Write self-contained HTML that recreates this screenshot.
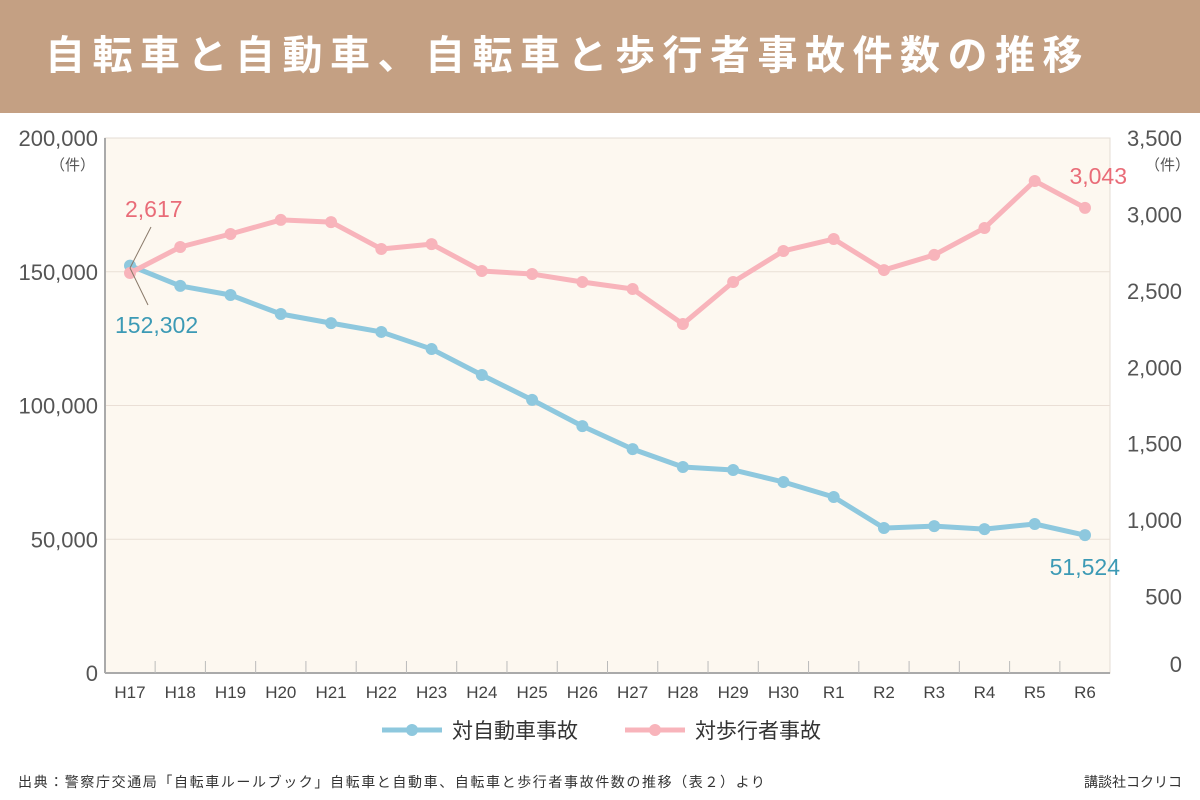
<!DOCTYPE html>
<html><head><meta charset="utf-8">
<style>
body{margin:0;width:1200px;height:800px;background:#fff;font-family:"Liberation Sans","Noto Sans CJK JP",sans-serif;overflow:hidden;position:relative}
#title{position:absolute;left:0;top:0;width:1200px;height:113px;background:#c4a083;color:#fff;font-size:40px;font-weight:bold;line-height:113px;padding-left:45px;box-sizing:border-box;letter-spacing:7.5px}
.foot{position:absolute;top:772px;font-size:14px;color:#333}
</style></head><body>
<div id="title">自転車と自動車、自転車と歩行者事故件数の推移</div>
<svg id="chart" width="1200" height="800" style="position:absolute;left:0;top:0"></svg>
<div class="foot" style="left:18px;letter-spacing:1.6px">出典：警察庁交通局「自転車ルールブック」自転車と自動車、自転車と歩行者事故件数の推移（表２）より</div>
<div class="foot" style="right:18px">講談社コクリコ</div>
<script>
const categories=["H17","H18","H19","H20","H21","H22","H23","H24","H25","H26","H27","H28","H29","H30","R1","R2","R3","R4","R5","R6"];
const carAccidents=[152302,144700,141300,134200,130800,127500,121100,111400,102100,92300,83700,77000,75900,71400,65800,54200,54900,53800,55700,51524];
const pedAccidents=[2617,2787,2872,2964,2950,2774,2806,2630,2610,2558,2512,2283,2558,2761,2839,2636,2735,2911,3219,3043];
const leftTicks=[0,50000,100000,150000,200000];
const rightTicks=[0,500,1000,1500,2000,2500,3000,3500];
const NS="http://www.w3.org/2000/svg";
const svg=document.getElementById('chart');
const L=105,R=1110,T=138,B=673;
const x=i=>130+i*(1085-130)/(categories.length-1);
const yL=v=>B-(v/200000)*(B-T);
const yR=v=>B-(v/3500)*(B-T);
function mk(t,a,parent){const e=document.createElementNS(NS,t);for(const k in a)e.setAttribute(k,a[k]);(parent||svg).appendChild(e);return e;}
const fmt=v=>v.toLocaleString('en-US');
let bg=mk('rect',{x:L,y:T,width:R-L,height:B-T,fill:'#fdf8f0',stroke:'#e4ddd4'});


leftTicks.forEach(v=>{
  if(v>0&&v<200000){let g=mk('line',{x1:L,x2:R,y1:yL(v),y2:yL(v),stroke:'#eadfd6','stroke-width':1});
  
  }
  let t=mk('text',{x:98,y:yL(v)+8,'text-anchor':'end','font-size':22,fill:'#555'});t.textContent=fmt(v);
  
  
});
rightTicks.forEach(v=>{
  let t=mk('text',{x:1182,y:(v==0?664:yR(v))+8,'text-anchor':'end','font-size':22,fill:'#555'});t.textContent=fmt(v);
  
  
});
let u1=mk('text',{x:95,y:170,'text-anchor':'end','font-size':15,fill:'#555'});u1.textContent='（件）';


let u2=mk('text',{x:1190,y:170,'text-anchor':'end','font-size':15,fill:'#555'});u2.textContent='（件）';


let ax=mk('line',{x1:L,x2:R,y1:B,y2:B,stroke:'#aaa','stroke-width':2});


let ay=mk('line',{x1:L,x2:L,y1:T,y2:B,stroke:'#aaa','stroke-width':2});


categories.forEach((c,i)=>{
  if(i>0){let tk=mk('line',{x1:(x(i)+x(i-1))/2,x2:(x(i)+x(i-1))/2,y1:B,y2:B-12,stroke:'#bbb'});
  
  }
  let t=mk('text',{x:x(i),y:698,'text-anchor':'middle','font-size':17,fill:'#444'});t.textContent=c;
  
  
});
function series(data,yf,color,name){
  let p=mk('polyline',{points:data.map((v,i)=>x(i)+','+yf(v)).join(' '),fill:'none',stroke:color,'stroke-width':5,'stroke-linejoin':'round'});
  
  
  data.forEach((v,i)=>{let c=mk('circle',{cx:x(i),cy:yf(v),r:6,fill:color});
    
    });
}
series(carAccidents,yL,'#8ec8de','car-accidents');
series(pedAccidents,yR,'#f8b4bb','pedestrian-accidents');
let n=carAccidents.length-1;
let l1=mk('line',{x1:151,y1:227,x2:130,y2:268,stroke:'#8a7a6a'});


let l2=mk('line',{x1:130,y1:268,x2:148,y2:305,stroke:'#8a7a6a'});


let a1=mk('text',{x:125,y:217,'font-size':23,fill:'#e96c78'});a1.textContent=fmt(pedAccidents[0]);


let a2=mk('text',{x:115,y:333,'font-size':23,fill:'#3c9ab5'});a2.textContent=fmt(carAccidents[0]);


let a3=mk('text',{x:1127,y:yR(pedAccidents[n])-24,'text-anchor':'end','font-size':23,fill:'#e96c78'});a3.textContent=fmt(pedAccidents[n]);


let a4=mk('text',{x:1120,y:yL(carAccidents[n])+40,'text-anchor':'end','font-size':23,fill:'#3c9ab5'});a4.textContent=fmt(carAccidents[n]);


[[382,'#8ec8de','対自動車事故','legend-car'],[625,'#f8b4bb','対歩行者事故','legend-pedestrian']].forEach(([lx,col,txt,nm])=>{
  let g=mk('g',{});
  
  
  mk('line',{x1:lx,x2:lx+60,y1:730,y2:730,stroke:col,'stroke-width':5},g);
  mk('circle',{cx:lx+30,cy:730,r:6,fill:col},g);
  let t=mk('text',{x:lx+70,y:738,'font-size':21,fill:'#333'},g);t.textContent=txt;
});
</script>
</body></html>
